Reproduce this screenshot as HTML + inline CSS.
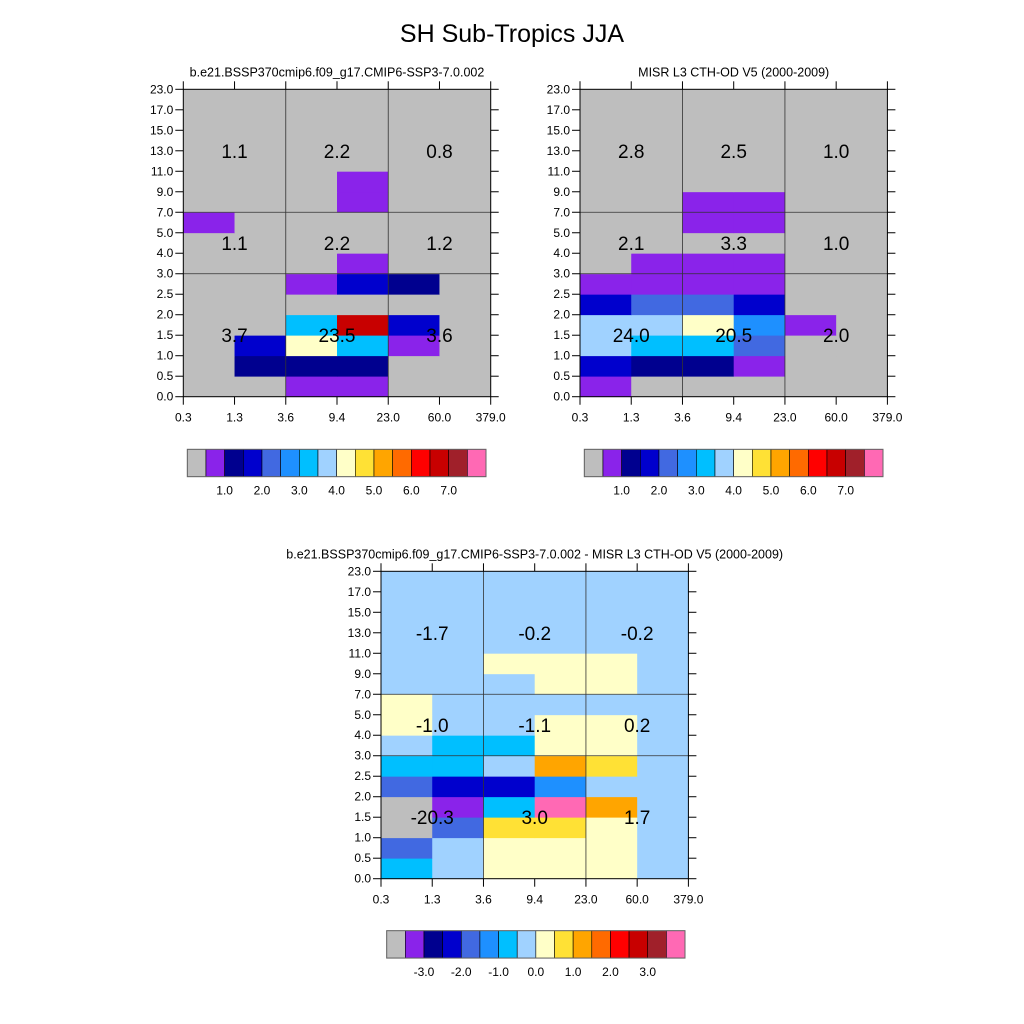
<!DOCTYPE html>
<html><head><meta charset="utf-8"><style>
html,body{margin:0;padding:0;background:#fff;}
svg{display:block;font-family:"Liberation Sans",sans-serif;}
</style></head><body>
<svg id="chart" width="1024" height="1024" viewBox="0 0 1024 1024" xmlns="http://www.w3.org/2000/svg">
<rect width="1024" height="1024" fill="#fff"/>
<text x="512" y="42" font-size="25" text-anchor="middle">SH Sub-Tropics JJA</text>
</svg>
<script>
// ---- data ----
const xTickLabels = ["0.3","1.3","3.6","9.4","23.0","60.0","379.0"];
const yTickLabels = ["0.0","0.5","1.0","1.5","2.0","2.5","3.0","4.0","5.0","7.0","9.0","11.0","13.0","15.0","17.0","23.0"];
const colors = ["#bebebe","#8a23ea","#00008f","#0000cd","#4169e1","#1e90ff","#00bfff","#a0d2ff","#ffffc8","#ffe135","#ffa500","#ff6a00","#ff0000","#c80000","#a0202a","#ff69b4"];
const absLabels = ["1.0","2.0","3.0","4.0","5.0","6.0","7.0"];
const diffLabels = ["-3.0","-2.0","-1.0","0.0","1.0","2.0","3.0"];
// rows bottom (0.0-0.5) to top (17-23); 6 columns
const modelVals = [
 [0.2,0.2,0.7,0.7,0.2,0.2],
 [0.2,1.2,1.2,1.2,0.2,0.2],
 [0.2,1.7,4.2,3.2,0.7,0.2],
 [0.2,0.2,3.2,6.7,1.7,0.2],
 [0.2,0.2,0.2,0.2,0.2,0.2],
 [0.2,0.2,0.7,1.7,1.2,0.2],
 [0.2,0.2,0.2,0.7,0.2,0.2],
 [0.2,0.2,0.2,0.2,0.2,0.2],
 [0.7,0.2,0.2,0.2,0.2,0.2],
 [0.2,0.2,0.2,0.7,0.2,0.2],
 [0.2,0.2,0.2,0.7,0.2,0.2],
 [0.2,0.2,0.2,0.2,0.2,0.2],
 [0.2,0.2,0.2,0.2,0.2,0.2],
 [0.2,0.2,0.2,0.2,0.2,0.2],
 [0.2,0.2,0.2,0.2,0.2,0.2]
];
const obsVals = [
 [0.7,0.2,0.2,0.2,0.2,0.2],
 [1.7,1.2,1.2,0.7,0.2,0.2],
 [3.7,3.2,3.2,2.2,0.2,0.2],
 [3.7,3.7,4.2,2.7,0.7,0.2],
 [1.7,2.2,2.2,1.7,0.2,0.2],
 [0.7,0.7,0.7,0.7,0.2,0.2],
 [0.2,0.7,0.7,0.7,0.2,0.2],
 [0.2,0.2,0.2,0.2,0.2,0.2],
 [0.2,0.2,0.7,0.7,0.2,0.2],
 [0.2,0.2,0.7,0.7,0.2,0.2],
 [0.2,0.2,0.2,0.2,0.2,0.2],
 [0.2,0.2,0.2,0.2,0.2,0.2],
 [0.2,0.2,0.2,0.2,0.2,0.2],
 [0.2,0.2,0.2,0.2,0.2,0.2],
 [0.2,0.2,0.2,0.2,0.2,0.2]
];
const diffVals = [
 [-0.8,-0.2,0.2,0.2,0.2,-0.2],
 [-1.8,-0.2,0.2,0.2,0.2,-0.2],
 [-5.0,-1.8,0.7,0.7,0.2,-0.2],
 [-5.0,-3.2,-0.8,3.8,1.2,-0.2],
 [-1.8,-2.3,-2.3,-1.3,-0.2,-0.2],
 [-0.8,-0.8,-0.2,1.2,0.7,-0.2],
 [-0.2,-0.8,-0.8,0.2,0.2,-0.2],
 [0.2,-0.2,-0.2,0.2,0.2,-0.2],
 [0.2,-0.2,-0.2,-0.2,-0.2,-0.2],
 [-0.2,-0.2,-0.2,0.2,0.2,-0.2],
 [-0.2,-0.2,0.2,0.2,0.2,-0.2],
 [-0.2,-0.2,-0.2,-0.2,-0.2,-0.2],
 [-0.2,-0.2,-0.2,-0.2,-0.2,-0.2],
 [-0.2,-0.2,-0.2,-0.2,-0.2,-0.2],
 [-0.2,-0.2,-0.2,-0.2,-0.2,-0.2]
];
// block totals: [top row (left,mid,right), middle row, bottom row]
const modelTotals = [["1.1","2.2","0.8"],["1.1","2.2","1.2"],["3.7","23.5","3.6"]];
const obsTotals = [["2.8","2.5","1.0"],["2.1","3.3","1.0"],["24.0","20.5","2.0"]];
const diffTotals = [["-1.7","-0.2","-0.2"],["-1.0","-1.1","0.2"],["-20.3","3.0","1.7"]];

const NS="http://www.w3.org/2000/svg";
const svg=document.getElementById('chart');
function mk(tag,attrs,parent){const e=document.createElementNS(NS,tag);for(const k in attrs)e.setAttribute(k,attrs[k]);(parent||svg).appendChild(e);return e;}
function absBin(v){return Math.max(0,Math.min(15,Math.floor(v/0.5)));}
function diffBin(v){return Math.max(0,Math.min(15,Math.floor((v+4)/0.5)));}

function panel(name,x0,y0,W,H,title,vals,totals,binFn){
  const g=mk('g',{});
  
  
  const nc=6,nr=15,cw=W/nc,rh=H/nr;
  const xs=i=>x0+i*cw, ys=j=>y0+H-j*rh;
  vals.forEach((row,j)=>row.forEach((v,i)=>{
    const r=mk('rect',{x:xs(i),y:ys(j+1),width:cw+0.4,height:rh+0.4,fill:colors[binFn(v)]},g);
    
    
  }));
  // grid lines
  [2,4].forEach(i=>mk('line',{x1:xs(i),x2:xs(i),y1:y0,y2:y0+H,stroke:'#333','stroke-width':0.8},g));
  [6,9].forEach(j=>mk('line',{x1:x0,x2:x0+W,y1:ys(j),y2:ys(j),stroke:'#333','stroke-width':0.8},g));
  mk('rect',{x:x0,y:y0,width:W,height:H,fill:'none',stroke:'#000','stroke-width':1},g);
  // ticks
  for(let i=0;i<=nc;i++){
    mk('line',{x1:xs(i),x2:xs(i),y1:y0+H,y2:y0+H+8,stroke:'#000'},g);
    mk('line',{x1:xs(i),x2:xs(i),y1:y0,y2:y0-8,stroke:'#000'},g);
    const t=mk('text',{x:xs(i),y:y0+H+25,'font-size':12,'text-anchor':'middle'},g);
    t.textContent=xTickLabels[i];
    
    
  }
  for(let j=0;j<=nr;j++){
    mk('line',{x1:x0,x2:x0-8,y1:ys(j),y2:ys(j),stroke:'#000'},g);
    mk('line',{x1:x0+W,x2:x0+W+8,y1:ys(j),y2:ys(j),stroke:'#000'},g);
    const t=mk('text',{x:x0-10,y:ys(j)+4,'font-size':12,'text-anchor':'end'},g);
    t.textContent=yTickLabels[j];
    
    
  }
  const tt=mk('text',{x:x0+W/2,y:y0-13,'font-size':12.5,'text-anchor':'middle'},g);
  tt.textContent=title;
  
  
  const bx=[[0,2],[2,4],[4,6]], by=[[9,15],[6,9],[0,6]];
  totals.forEach((row,r)=>row.forEach((s,c)=>{
    const cx=(xs(bx[c][0])+xs(bx[c][1]))/2, cy=(ys(by[r][0])+ys(by[r][1]))/2;
    const t=mk('text',{x:cx,y:cy+7,'font-size':19,'text-anchor':'middle'},g);
    t.textContent=s;
    
    
  }));
}
function colorbar(name,x0,y0,W,H,labels){
  const g=mk('g',{});
  
  
  const bw=W/16;
  colors.forEach((c,k)=>{
    const r=mk('rect',{x:x0+k*bw,y:y0,width:bw,height:H,fill:c,stroke:'#000','stroke-width':0.6},g);
    
    
  });
  mk('rect',{x:x0,y:y0,width:W,height:H,fill:'none',stroke:'#666','stroke-width':1},g);
  labels.forEach((s,i)=>{
    const t=mk('text',{x:x0+(2+2*i)*bw,y:y0+H+18,'font-size':12,'text-anchor':'middle'},g);
    t.textContent=s;
    
    
  });
}
panel('model',183.3,89.3,307.4,307.4,'b.e21.BSSP370cmip6.f09_g17.CMIP6-SSP3-7.0.002',modelVals,modelTotals,absBin);
panel('obs',580,89.3,307.4,307.4,'MISR L3 CTH-OD V5 (2000-2009)',obsVals,obsTotals,absBin);
panel('diff',381,571.3,307.4,307.4,'b.e21.BSSP370cmip6.f09_g17.CMIP6-SSP3-7.0.002 - MISR L3 CTH-OD V5 (2000-2009)',diffVals,diffTotals,diffBin);
colorbar('model-colorbar',187.3,449.3,298.7,27.4,absLabels);
colorbar('obs-colorbar',584.3,449.3,298.7,27.4,absLabels);
colorbar('diff-colorbar',386.7,930.7,298.3,27.4,diffLabels);
</script>
</body></html>
